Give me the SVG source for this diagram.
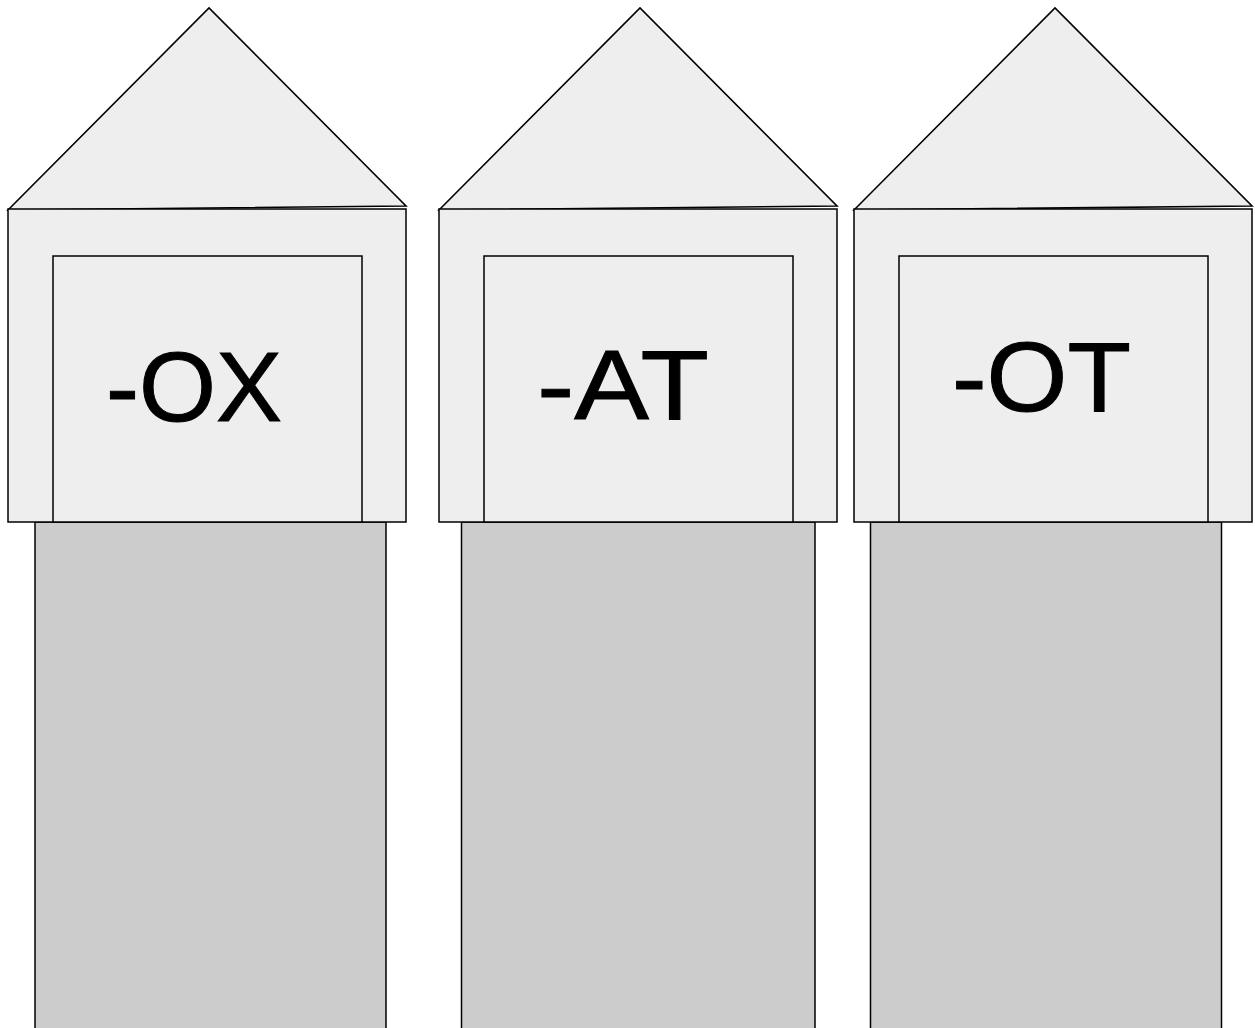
<svg xmlns="http://www.w3.org/2000/svg" width="1255" height="1028" viewBox="0 0 1255 1028">
<style>
.roof{fill:#eeeeee;stroke:#000;stroke-width:1.6;stroke-linejoin:miter}
.box{fill:#eeeeee;stroke:#000;stroke-width:1.5}
.col{fill:#cccccc;stroke:#000;stroke-width:1.5}
.lbl{font-family:"Liberation Sans","DejaVu Sans",sans-serif;font-size:99px;fill:#000;stroke:#000;stroke-width:1}
</style>
<rect width="1255" height="1028" fill="#ffffff"/>
<g id="house-ox">
<rect class="col" x="35" y="522" width="351" height="510"/>
<polygon class="roof" points="8,210 209,8 406,206"/>
<rect class="box" x="8" y="209" width="398" height="313"/>
<rect class="box" x="53" y="256" width="309" height="266"/>
<text class="lbl" x="106" y="421" textLength="176" lengthAdjust="spacingAndGlyphs">-OX</text>
</g>
<g id="house-at">
<rect class="col" x="461.5" y="522" width="353.5" height="510"/>
<polygon class="roof" points="439,210 640,8 837,206"/>
<rect class="box" x="439" y="209" width="398" height="313"/>
<rect class="box" x="484" y="256" width="309" height="266"/>
<text class="lbl" x="537" y="419" textLength="172" lengthAdjust="spacingAndGlyphs">-AT</text>
</g>
<g id="house-ot">
<rect class="col" x="870.5" y="522" width="351" height="510"/>
<polygon class="roof" points="854,210 1055,8 1252,206"/>
<rect class="box" x="854" y="209" width="398" height="313"/>
<rect class="box" x="899" y="256" width="309" height="266"/>
<text class="lbl" x="952" y="411" textLength="179" lengthAdjust="spacingAndGlyphs">-OT</text>
</g>
<g id="connectors"></g>
</svg>
